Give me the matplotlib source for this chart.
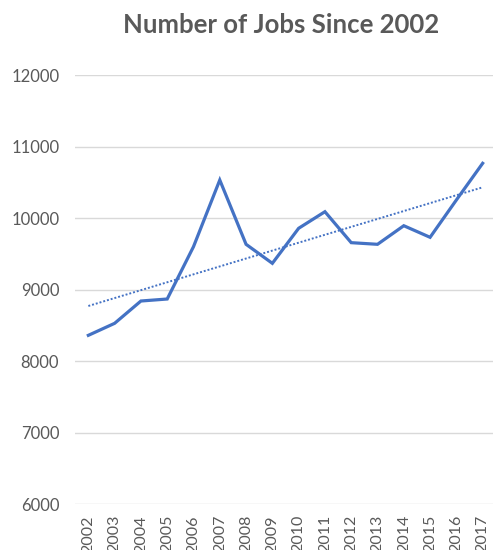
import numpy as np
import matplotlib
matplotlib.use("Agg")
import matplotlib.pyplot as plt

years = ["2002", "2003", "2004", "2005", "2006", "2007", "2008", "2009",
         "2010", "2011", "2012", "2013", "2014", "2015", "2016", "2017"]
jobs = [8359, 8527, 8839, 8867, 9599, 10531, 9632, 9366,
        9856, 10088, 9655, 9632, 9892, 9730, 10252, 10765]
y_ticks = [6000, 7000, 8000, 9000, 10000, 11000, 12000]

plt.rcParams["font.family"] = ["Lato", "DejaVu Sans"]
text_color = "#595959"
line_color = "#4472C4"

W, H = 493, 550
fig = plt.figure(figsize=(W / 100, H / 100), dpi=100)
left, right, top, bottom = 75.2, 495.8, 75, 504
ax = fig.add_axes([left / W, 1 - bottom / H, (right - left) / W, (bottom - top) / H])

x = np.arange(len(years))
ax.plot(x, jobs, color=line_color, lw=2.3, solid_joinstyle="miter", zorder=3)

# linear trend line
coef = np.polyfit(x, jobs, 1)
ax.plot(x, np.polyval(coef, x), color=line_color, lw=1.4, ls=(0, (1, 1)), zorder=2)

ax.set_xlim(-0.5, len(years) - 0.5)
ax.set_ylim(6000, 12000)
ax.set_yticks(y_ticks)
ax.set_yticklabels([str(v) for v in y_ticks])
ax.set_xticks(x)
ax.set_xticklabels(years, rotation=90, va="top")

ax.grid(axis="y", color="#d9d9d9", lw=1)
ax.set_axisbelow(True)
for s in ax.spines.values():
    s.set_visible(False)
ax.tick_params(axis="both", length=0, colors=text_color)
ax.tick_params(axis="y", pad=11.5, labelsize=12)
ax.tick_params(axis="x", pad=8, labelsize=11.5)

fig.text(281.5 / W, 1 - 25 / H, "Number of Jobs Since 2002", ha="center", va="center",
         fontsize=18.5, fontweight="bold", color=text_color)

fig.savefig("out.png", dpi=100)
